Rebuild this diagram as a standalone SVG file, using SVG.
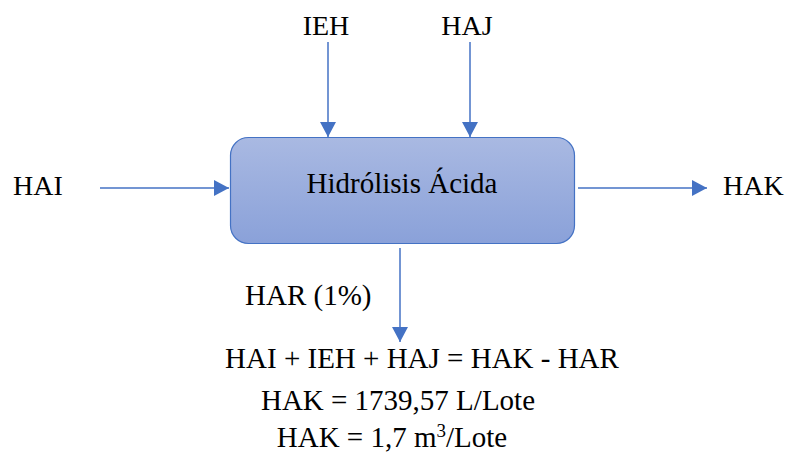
<svg xmlns="http://www.w3.org/2000/svg" width="791" height="455" viewBox="0 0 791 455">
<defs>
<linearGradient id="g" x1="0" y1="0" x2="0" y2="1">
<stop offset="0" stop-color="#a9b9e2"/>
<stop offset="1" stop-color="#8aa1d9"/>
</linearGradient>
<marker id="ah" markerWidth="16" markerHeight="16" viewBox="0 0 16 16" refX="15" refY="8" orient="auto" markerUnits="userSpaceOnUse">
<path d="M0,0 L15,8 L0,16 Z" fill="#4472c4"/>
</marker>
<style>
.c{stroke:#4472c4;stroke-width:1.5;fill:none;marker-end:url(#ah)}
</style>
</defs>
<g id="connectors">
<line class="c" x1="328" y1="42" x2="328" y2="137"/>
<line class="c" x1="470" y1="42" x2="470" y2="137"/>
<line class="c" x1="100" y1="188" x2="229" y2="188"/>
<line class="c" x1="578" y1="188" x2="707" y2="188"/>
<line class="c" x1="400" y1="248" x2="400" y2="342"/>
</g>
<g id="hidrolisis">
<rect x="230.5" y="137.5" width="344" height="106" rx="18" ry="18" fill="url(#g)" stroke="#4472c4" stroke-width="1.2"/>
<text x="402" y="193" font-size="29" text-anchor="middle" fill="#000" font-family="Times New Roman, serif">Hidrólisis Ácida</text>
</g>
<g id="ieh"><text x="326" y="35" font-size="28" text-anchor="middle" fill="#000" font-family="Times New Roman, serif">IEH</text></g>
<g id="haj"><text x="467" y="35" font-size="28" text-anchor="middle" fill="#000" font-family="Times New Roman, serif">HAJ</text></g>
<g id="hai"><text x="13" y="195" font-size="28" fill="#000" font-family="Times New Roman, serif">HAI</text></g>
<g id="hak"><text x="723" y="195" font-size="28" fill="#000" font-family="Times New Roman, serif">HAK</text></g>
<g id="har"><text x="245" y="305" font-size="29" fill="#000" font-family="Times New Roman, serif">HAR (1%)</text></g>
<g id="equations">
<text x="422" y="368" font-size="29" text-anchor="middle" fill="#000" font-family="Times New Roman, serif">HAI + IEH + HAJ = HAK - HAR</text>
<text x="398" y="410" font-size="29" text-anchor="middle" fill="#000" font-family="Times New Roman, serif">HAK = 1739,57 L/Lote</text>
<text x="392" y="447" font-size="29" text-anchor="middle" fill="#000" font-family="Times New Roman, serif">HAK = 1,7 m<tspan font-size="19" dy="-10">3</tspan><tspan dy="10">/Lote</tspan></text>
</g>
</svg>
